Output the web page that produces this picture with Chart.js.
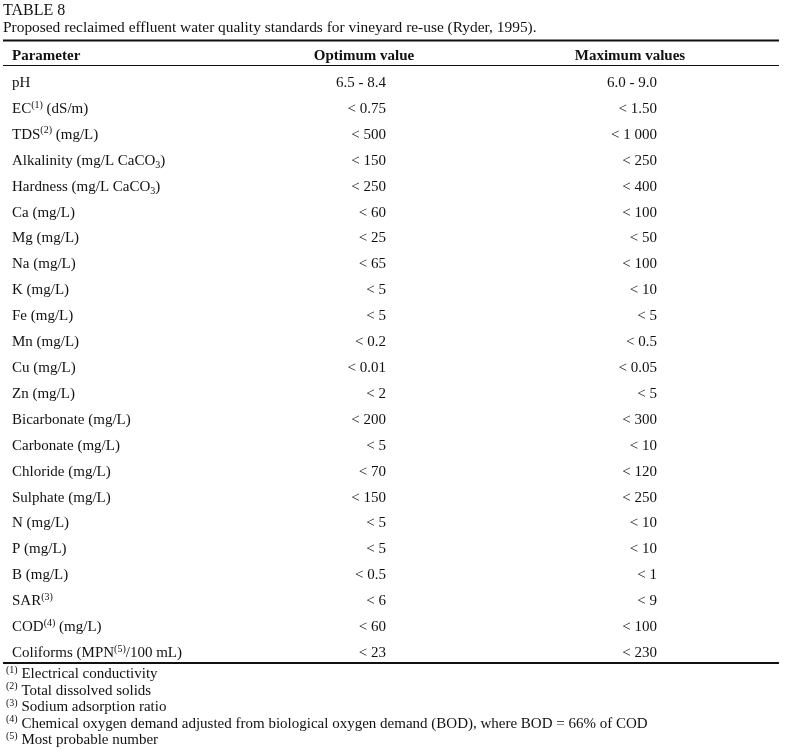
<!DOCTYPE html>
<html>
<head>
<meta charset="utf-8">
<title>Table 8</title>
<script src="https://cdn.jsdelivr.net/npm/chart.js@4.4.1/dist/chart.umd.min.js"></script>
<style>
    html, body {
        margin: 0;
        padding: 0;
        background: #fff;
    }
    #wrap {
        position: relative;
        width: 796px;
        height: 752px;
    }
</style>
</head>
<body>
<div id="wrap">
    <canvas id="tableChart"></canvas>
</div>
<script>
/* ====================================
   TABLE DATA
==================================== */

const tableTitle = "TABLE 8";

const tableCaption =
    "Proposed reclaimed effluent water quality standards for vineyard re-use (Ryder, 1995).";

const columnHeaders = [
    "Parameter",
    "Optimum value",
    "Maximum values"
];

// {^x} = superscript, {_x} = subscript
const parameters = [
    "pH",
    "EC{^(1)} (dS/m)",
    "TDS{^(2)} (mg/L)",
    "Alkalinity (mg/L CaCO{_3})",
    "Hardness (mg/L CaCO{_3})",
    "Ca (mg/L)",
    "Mg (mg/L)",
    "Na (mg/L)",
    "K (mg/L)",
    "Fe (mg/L)",
    "Mn (mg/L)",
    "Cu (mg/L)",
    "Zn (mg/L)",
    "Bicarbonate (mg/L)",
    "Carbonate (mg/L)",
    "Chloride (mg/L)",
    "Sulphate (mg/L)",
    "N (mg/L)",
    "P (mg/L)",
    "B (mg/L)",
    "SAR{^(3)}",
    "COD{^(4)} (mg/L)",
    "Coliforms (MPN{^(5)}/100 mL)"
];

const optimumValues = [
    "6.5 - 8.4",
    "< 0.75",
    "< 500",
    "< 150",
    "< 250",
    "< 60",
    "< 25",
    "< 65",
    "< 5",
    "< 5",
    "< 0.2",
    "< 0.01",
    "< 2",
    "< 200",
    "< 5",
    "< 70",
    "< 150",
    "< 5",
    "< 5",
    "< 0.5",
    "< 6",
    "< 60",
    "< 23"
];

const maximumValues = [
    "6.0 - 9.0",
    "< 1.50",
    "< 1 000",
    "< 250",
    "< 400",
    "< 100",
    "< 50",
    "< 100",
    "< 10",
    "< 5",
    "< 0.5",
    "< 0.05",
    "< 5",
    "< 300",
    "< 10",
    "< 120",
    "< 250",
    "< 10",
    "< 10",
    "< 1",
    "< 9",
    "< 100",
    "< 230"
];

const footnotes = [
    "{^(1)} Electrical conductivity",
    "{^(2)} Total dissolved solids",
    "{^(3)} Sodium adsorption ratio",
    "{^(4)} Chemical oxygen demand adjusted from biological oxygen demand (BOD), where BOD = 66% of COD",
    "{^(5)} Most probable number"
];

/* ====================================
   LAYOUT
==================================== */

const FONT = "'Liberation Serif', 'Times New Roman', serif";

const layout = {
    ruleLeft: 3,
    ruleRight: 779,
    paramX: 12,
    optimumRight: 386,
    maximumRight: 657,
    optimumHeader: 364,
    maximumHeader: 630,
    titleY: 15,
    captionY: 32,
    topRuleY: 40.5,
    headerY: 60,
    headerRuleY: 65.5,
    bottomRuleY: 663,
    footX: 6,
    footStart: 678,
    footStep: 16.5
};

/* ====================================
   RICH TEXT
==================================== */

function parseRich(text) {

    const parts = [];
    const re = /\{([\^_])([^}]*)\}/g;
    let last = 0;
    let m;

    while ((m = re.exec(text)) !== null) {
        if (m.index > last)
            parts.push({ t: text.slice(last, m.index), k: "n" });
        parts.push({ t: m[2], k: m[1] === "^" ? "sup" : "sub" });
        last = re.lastIndex;
    }

    if (last < text.length)
        parts.push({ t: text.slice(last), k: "n" });

    return parts;

}

function partFont(kind, size, weight) {

    const s = kind === "n" ? size : Math.round(size * 0.66);
    return (weight || "normal") + " " + s + "px " + FONT;

}

function drawRich(ctx, text, x, y, align, size, weight) {

    const parts = parseRich(text);

    let total = 0;
    parts.forEach(p => {
        ctx.font = partFont(p.k, size, weight);
        p.w = ctx.measureText(p.t).width;
        total += p.w;
    });

    let cx = x;
    if (align === "right") cx = x - total;
    if (align === "center") cx = x - total / 2;

    ctx.textAlign = "left";
    ctx.textBaseline = "alphabetic";

    parts.forEach(p => {
        ctx.font = partFont(p.k, size, weight);
        let dy = 0;
        if (p.k === "sup") dy = -size * 0.36;
        if (p.k === "sub") dy = size * 0.22;
        ctx.fillText(p.t, cx, y + dy);
        cx += p.w;
    });

}

function hRule(ctx, y, width) {

    ctx.beginPath();
    ctx.lineWidth = width;
    ctx.strokeStyle = "#111";
    ctx.moveTo(layout.ruleLeft, y);
    ctx.lineTo(layout.ruleRight, y);
    ctx.stroke();

}

/* ====================================
   TABLE PLUGIN
==================================== */

const tablePlugin = {

    id: "tableCells",

    afterDraw(chart) {

        const ctx = chart.ctx;
        const yScale = chart.scales.y;

        ctx.save();
        ctx.fillStyle = "#111";

        drawRich(ctx, tableTitle, layout.ruleLeft, layout.titleY, "left", 16);
        drawRich(ctx, tableCaption, layout.ruleLeft, layout.captionY, "left", 15.4);

        hRule(ctx, layout.topRuleY, 2.2);

        drawRich(ctx, columnHeaders[0], layout.paramX, layout.headerY, "left", 15, "bold");
        drawRich(ctx, columnHeaders[1], layout.optimumHeader, layout.headerY, "center", 15, "bold");
        drawRich(ctx, columnHeaders[2], layout.maximumHeader, layout.headerY, "center", 15, "bold");

        hRule(ctx, layout.headerRuleY, 1.2);

        parameters.forEach((name, i) => {

            const y = yScale.getPixelForValue(i);

            drawRich(ctx, name, layout.paramX, y, "left", 15);
            drawRich(ctx, optimumValues[i], layout.optimumRight, y, "right", 15);
            drawRich(ctx, maximumValues[i], layout.maximumRight, y, "right", 15);

        });

        hRule(ctx, layout.bottomRuleY, 2.2);

        footnotes.forEach((note, i) => {

            drawRich(
                ctx,
                note,
                layout.footX,
                layout.footStart + i * layout.footStep,
                "left",
                15
            );

        });

        ctx.restore();

    }

};

/* ====================================
   CHART
==================================== */

function createTableChart() {

    const canvas = document.getElementById("tableChart");

    new Chart(canvas, {

        type: "bar",

        data: {
            labels: parameters,
            datasets: [{
                data: parameters.map(() => null)
            }]
        },

        options: {

            responsive: true,
            maintainAspectRatio: false,
            animation: false,
            indexAxis: "y",

            layout: {
                padding: {
                    top: 87,
                    bottom: 95,
                    left: 0,
                    right: 0
                }
            },

            plugins: {
                legend: { display: false },
                tooltip: { enabled: false }
            },

            scales: {
                x: {
                    display: false,
                    min: 0,
                    max: 1
                },
                y: {
                    display: false,
                    offset: false
                }
            }

        },

        plugins: [tablePlugin]

    });

}

createTableChart();
</script>
</body>
</html>
